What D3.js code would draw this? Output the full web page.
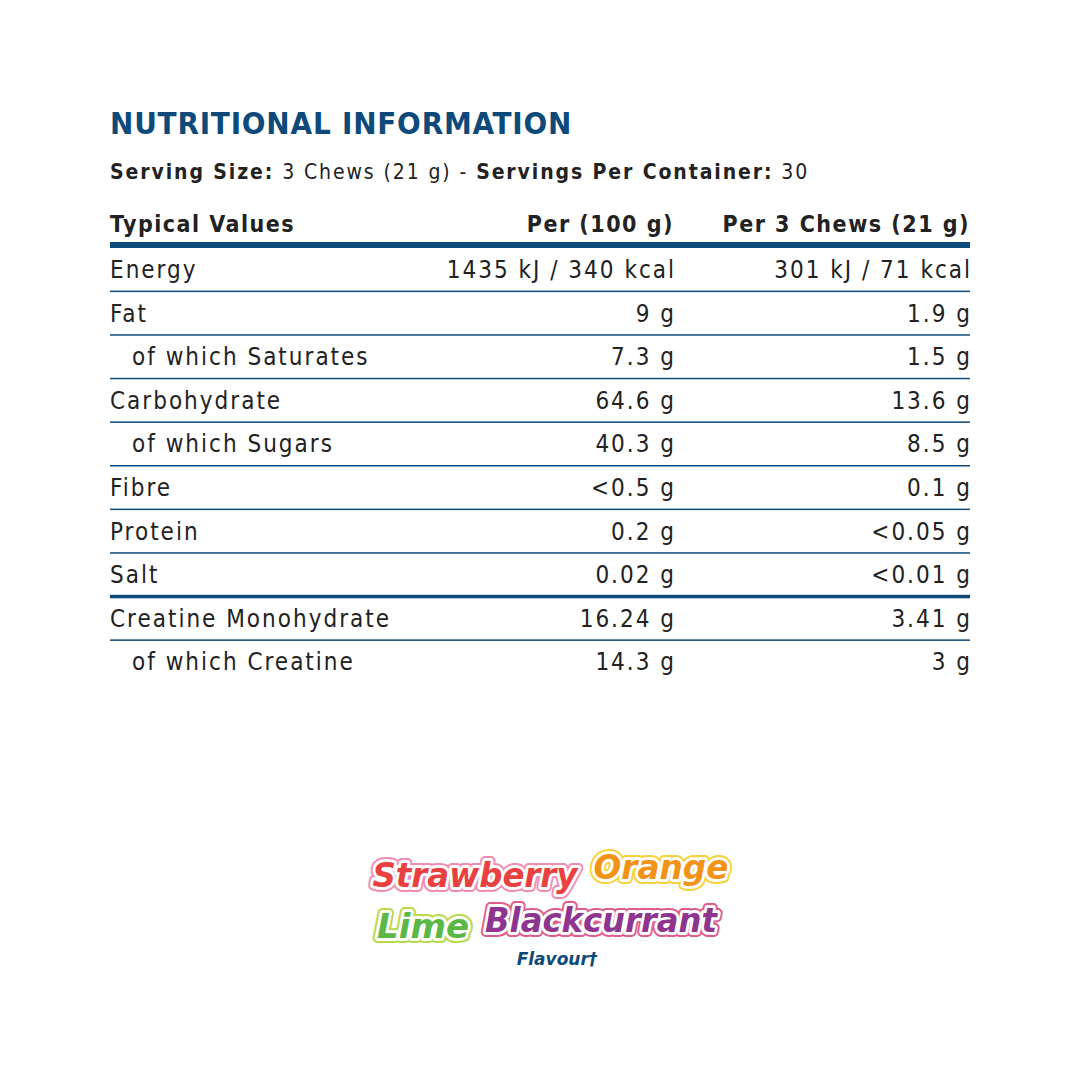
<!DOCTYPE html>
<html lang="en">
<head>
<meta charset="UTF-8">
<title>Nutritional Information</title>
<script src="https://d3js.org/d3.v7.min.js"></script>
<style>
  body { margin: 0; background: #fff; }
</style>
</head>
<body>
<svg id="chart" width="1080" height="1080"></svg>
<script>
  // table data
  var headers = ["Typical Values", "Per (100 g)", "Per 3 Chews (21 g)"];
  var nutrients = ["Energy", "Fat", "of which Saturates", "Carbohydrate", "of which Sugars",
    "Fibre", "Protein", "Salt", "Creatine Monohydrate", "of which Creatine"];
  var per100 = ["1435 kJ / 340 kcal", "9 g", "7.3 g", "64.6 g", "40.3 g", "<0.5 g", "0.2 g", "0.02 g", "16.24 g", "14.3 g"];
  var perServing = ["301 kJ / 71 kcal", "1.9 g", "1.5 g", "13.6 g", "8.5 g", "0.1 g", "<0.05 g", "<0.01 g", "3.41 g", "3 g"];
  var flavours = [["Strawberry", "#e8413f", "#f08cb4"], ["Orange", "#f29317", "#f6d23a"],
                  ["Lime", "#5bb847", "#b9d84a"], ["Blackcurrant", "#8e3590", "#e15a8c"]];

  var svg = d3.select("#chart"),
    blue = "#0d4a7a",
    font = "'DejaVu Sans Condensed', 'Roboto Condensed', Roboto, sans-serif";

  var left = 110, right = 970, col2 = 674;

  svg.append("text").attr("x", left).attr("y", 134)
    .attr("font-family", font).attr("font-weight", "bold").attr("font-size", 31)
    .attr("letter-spacing", 0.8).attr("fill", blue)
    .text("NUTRITIONAL INFORMATION");

  var sub = svg.append("text").attr("x", left).attr("y", 179)
    .attr("font-family", font).attr("font-size", 21).attr("fill", "#222").attr("letter-spacing", 1.9);
  sub.append("tspan").attr("font-weight", "bold").text("Serving Size:");
  sub.append("tspan").text(" 3 Chews (21 g) - ");
  sub.append("tspan").attr("font-weight", "bold").text("Servings Per Container:");
  sub.append("tspan").text(" 30");

  // header row
  var hy = 232;
  [[left, "start"], [col2, "end"], [right, "end"]].forEach(function (c, i) {
    svg.append("text").attr("x", c[0]).attr("y", hy).attr("text-anchor", c[1])
      .attr("font-family", font).attr("font-weight", "bold").attr("font-size", 23)
      .attr("letter-spacing", 1.5).attr("fill", "#222").text(headers[i]);
  });
  svg.append("rect").attr("x", left).attr("y", 242).attr("width", right - left).attr("height", 6).attr("fill", blue);

  var y = d3.scaleBand().domain(nutrients).range([248, 248 + 43.6 * nutrients.length]);

  var rows = svg.selectAll("g.row").data(nutrients).enter().append("g")
    .attr("transform", function (d) { return "translate(0," + y(d) + ")"; });

  function cell(sel) {
    return sel.attr("y", 30).attr("font-family", font).attr("font-size", 24)
      .attr("fill", "#222").attr("letter-spacing", 2);
  }
  cell(rows.append("text")).attr("x", function (d) { return d.indexOf("of which") === 0 ? left + 22 : left; })
    .text(function (d) { return d; });
  cell(rows.append("text")).attr("x", col2 + 2).attr("text-anchor", "end")
    .text(function (d, i) { return per100[i]; });
  cell(rows.append("text")).attr("x", right + 2).attr("text-anchor", "end")
    .text(function (d, i) { return perServing[i]; });
  rows.filter(function (d, i) { return i < nutrients.length - 1; })
    .append("rect").attr("x", left).attr("y", y.bandwidth())
    .attr("width", right - left)
    .attr("height", function (d) { return d === "Salt" ? 3.5 : 1.5; })
    .attr("transform", function (d) { return d === "Salt" ? "translate(0,-2)" : "translate(0,-1)"; })
    .attr("fill", blue);

  // flavour logo
  var logo = svg.append("g").attr("font-family", "'DejaVu Sans', sans-serif")
    .attr("font-weight", "bold").attr("font-style", "italic");
  var pos = [[475, 887, 34], [661, 879, 34], [423, 938, 34], [601, 932, 34]];
  flavours.forEach(function (f, i) {
    var p = pos[i];
    logo.append("text").attr("x", p[0]).attr("y", p[1]).attr("text-anchor", "middle")
      .attr("font-size", p[2]).attr("textLength", i === 0 ? 205 : i === 1 ? 135 : i === 2 ? 92 : 232)
      .attr("lengthAdjust", "spacingAndGlyphs").attr("stroke", f[2]).attr("stroke-width", 10)
      .attr("stroke-linejoin", "round").attr("fill", f[2]).text(f[0]);
    logo.append("text").attr("x", p[0]).attr("y", p[1]).attr("text-anchor", "middle")
      .attr("font-size", p[2]).attr("textLength", i === 0 ? 205 : i === 1 ? 135 : i === 2 ? 92 : 232)
      .attr("lengthAdjust", "spacingAndGlyphs").attr("stroke", "#fff").attr("stroke-width", 6)
      .attr("stroke-linejoin", "round").attr("fill", "#fff").text(f[0]);
    logo.append("text").attr("x", p[0]).attr("y", p[1]).attr("text-anchor", "middle")
      .attr("font-size", p[2]).attr("textLength", i === 0 ? 205 : i === 1 ? 135 : i === 2 ? 92 : 232)
      .attr("lengthAdjust", "spacingAndGlyphs").attr("fill", f[1]).text(f[0]);
  });
  logo.append("text").attr("x", 557).attr("y", 965).attr("text-anchor", "middle")
    .attr("font-size", 17).attr("fill", blue).text("Flavour†");
</script>
</body>
</html>
